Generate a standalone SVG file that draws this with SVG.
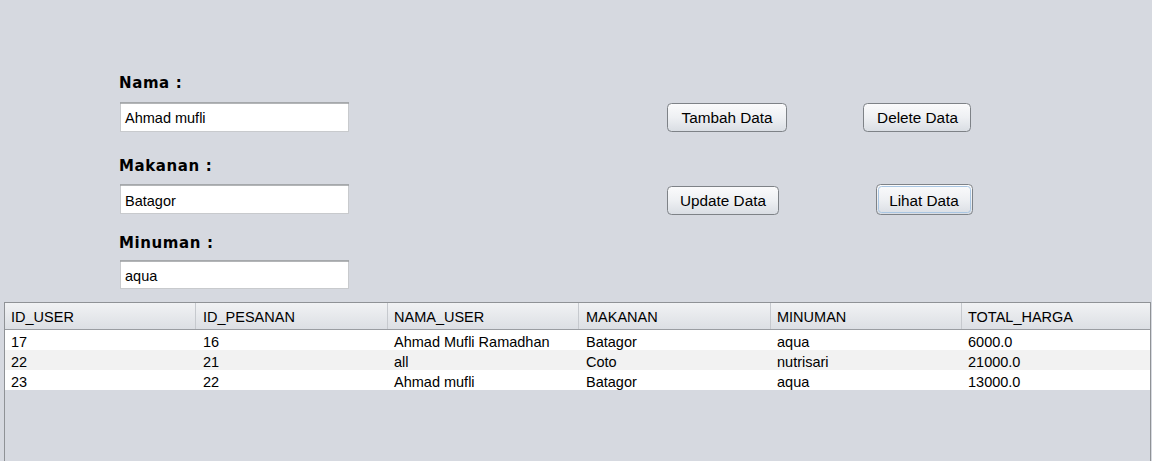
<svg xmlns="http://www.w3.org/2000/svg" width="1152" height="461" viewBox="0 0 1152 461">
<defs>
<linearGradient id="btn" x1="0" y1="0" x2="0" y2="1">
<stop offset="0" stop-color="#fbfbfc"/>
<stop offset="0.5" stop-color="#eef0f3"/>
<stop offset="1" stop-color="#d9dde3"/>
</linearGradient>
<linearGradient id="hdr" x1="0" y1="0" x2="0" y2="1">
<stop offset="0" stop-color="#f1f2f4"/>
<stop offset="1" stop-color="#dcdfe4"/>
</linearGradient>
</defs>
<style>
.lbl{font-family:"DejaVu Sans",Verdana,sans-serif;font-weight:bold;font-size:15px;fill:#000;letter-spacing:0.6px}
.t{font-family:"Liberation Sans",Arial,sans-serif;font-size:14.5px;fill:#000}
.field{fill:#fff;stroke:#c8cacd;stroke-width:1}
.ftop{stroke:#9a9c9f;stroke-width:1.5}
.b{fill:url(#btn);stroke:#7e8287;stroke-width:1}
.bt{font-family:"Liberation Sans",Arial,sans-serif;font-size:15.3px;fill:#000;text-anchor:middle}
.sep{stroke:#c6c9ce;stroke-width:1}
</style>
<rect width="1152" height="461" fill="#d6d9e0"/>

<g id="form">
<g id="nama">
<text class="lbl" x="119" y="88">Nama :</text>
<rect class="field" x="120.5" y="102.5" width="228" height="29"/>
<line class="ftop" x1="120" y1="103" x2="349" y2="103"/>
<text class="t" x="125" y="123">Ahmad mufli</text>
</g>
<g id="makanan">
<text class="lbl" x="119" y="171">Makanan :</text>
<rect class="field" x="120.5" y="184.5" width="228" height="29"/>
<line class="ftop" x1="120" y1="185" x2="349" y2="185"/>
<text class="t" x="125" y="206">Batagor</text>
</g>
<g id="minuman">
<text class="lbl" x="119" y="248">Minuman :</text>
<rect class="field" x="120.5" y="260.5" width="228" height="28"/>
<line class="ftop" x1="120" y1="261" x2="349" y2="261"/>
<text class="t" x="125" y="281">aqua</text>
</g>
</g>

<g id="btn-tambah">
<rect class="b" x="667.5" y="103.5" width="119" height="28" rx="4"/>
<text class="bt" x="727" y="123">Tambah Data</text>
</g>
<g id="btn-delete">
<rect class="b" x="863.5" y="103.5" width="107" height="28" rx="4"/>
<text class="bt" x="917.5" y="123">Delete Data</text>
</g>
<g id="btn-update">
<rect class="b" x="667.5" y="186.5" width="111" height="28" rx="4"/>
<text class="bt" x="723" y="206">Update Data</text>
</g>
<g id="btn-lihat">
<rect class="b" x="876.5" y="184.5" width="96" height="30" rx="4" stroke="#6a8fb5" stroke-width="1.5"/>
<rect x="878.5" y="186.5" width="92" height="26" rx="3" fill="none" stroke="#a9c6e3" stroke-width="1"/>
<text class="bt" x="924" y="206">Lihat Data</text>
</g>

<g id="table">
<rect x="4.5" y="302.5" width="1146" height="170" fill="#d6d9e0" stroke="#8f9296" stroke-width="1"/>
<rect x="5" y="303" width="1145" height="26" fill="url(#hdr)"/>
<line x1="5" y1="329.5" x2="1150" y2="329.5" stroke="#9a9da2"/>
<g class="sep">
<line x1="195.5" y1="303" x2="195.5" y2="329"/>
<line x1="387.5" y1="303" x2="387.5" y2="329"/>
<line x1="578.5" y1="303" x2="578.5" y2="329"/>
<line x1="770.5" y1="303" x2="770.5" y2="329"/>
<line x1="961.5" y1="303" x2="961.5" y2="329"/>
</g>
<rect x="5" y="330" width="1145" height="20" fill="#ffffff"/>
<rect x="5" y="350" width="1145" height="20" fill="#f2f2f2"/>
<rect x="5" y="370" width="1145" height="20" fill="#ffffff"/>
<g class="t">
<text x="11" y="322">ID_USER</text>
<text x="203" y="322">ID_PESANAN</text>
<text x="394" y="322">NAMA_USER</text>
<text x="586" y="322">MAKANAN</text>
<text x="777" y="322">MINUMAN</text>
<text x="968" y="322">TOTAL_HARGA</text>

<text x="11" y="347">17</text>
<text x="203" y="347">16</text>
<text x="394" y="347">Ahmad Mufli Ramadhan</text>
<text x="586" y="347">Batagor</text>
<text x="777" y="347">aqua</text>
<text x="968" y="347">6000.0</text>

<text x="11" y="367">22</text>
<text x="203" y="367">21</text>
<text x="394" y="367">all</text>
<text x="586" y="367">Coto</text>
<text x="777" y="367">nutrisari</text>
<text x="968" y="367">21000.0</text>

<text x="11" y="387">23</text>
<text x="203" y="387">22</text>
<text x="394" y="387">Ahmad mufli</text>
<text x="586" y="387">Batagor</text>
<text x="777" y="387">aqua</text>
<text x="968" y="387">13000.0</text>
</g>
</g>
</svg>
